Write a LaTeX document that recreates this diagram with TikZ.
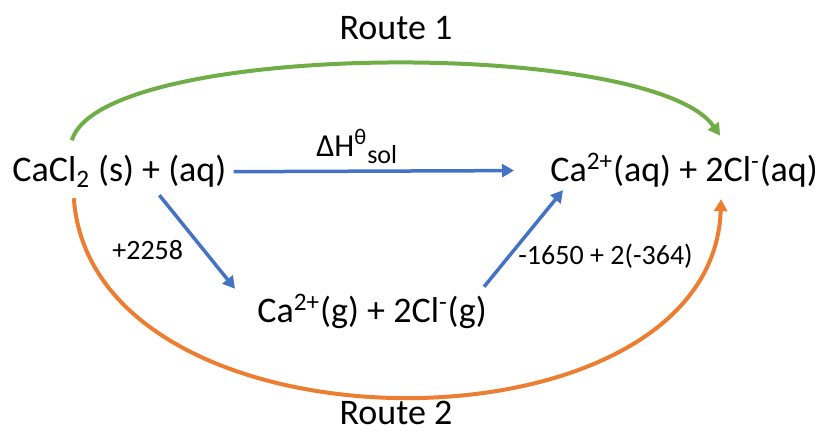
\documentclass[tikz,border=0pt]{standalone}
\usepackage{fontspec}
\setmainfont{Carlito}
\usepackage{tikz}
\usetikzlibrary{arrows.meta, positioning}
\definecolor{offblue}{HTML}{4472C4}
\definecolor{offgreen}{HTML}{70AD47}
\definecolor{offorange}{HTML}{ED7D31}
\tikzset{species/.style = {inner sep=0pt, anchor=base west, font=\fontsize{18}{22}\selectfont}}
\tikzset{enlabel/.style = {inner sep=0pt, anchor=base west, font=\fontsize{14}{17}\selectfont}}
\tikzset{routelabel/.style = {inner sep=0pt, anchor=base, font=\fontsize{18}{22}\selectfont}}
\tikzset{steparrow/.style = {draw=offblue, line width=1.75pt, -{Triangle[length=6pt,width=6.5pt]}}}
\tikzset{routearc/.style = {draw=#1, line width=2pt, -{Triangle[length=6pt,width=6.5pt]}}}

\begin{document}
\begin{tikzpicture}[x=0.5pt, y=0.5pt]
\useasboundingbox (0,0) rectangle (817,433);
\node[species] (lhs) at (12,251) {CaCl\textsubscript{2} (s) + (aq)};
\node[species] (rhs) at (550,251) {Ca\textsuperscript{2+}(aq) + 2Cl\textsuperscript{-}(aq)};
\node[species] (gas) at (257,110) {Ca\textsuperscript{2+}(g) + 2Cl\textsuperscript{-}(g)};
\node[routelabel] (route1) at (396,393) {Route 1};
\node[routelabel] (route2) at (396,9) {Route 2};
\node[enlabel, font=\fontsize{16}{19}\selectfont] (dhsol) at (316,276) {ΔH\textsuperscript{θ}\raisebox{-0.45ex}{\fontsize{13}{15}\selectfont sol}};
\node[enlabel] (atomise) at (112,173) {+2258};
\node[enlabel] (hydrate) at (518,168) {-1650 + 2(-364)};
% direct and indirect steps
\draw[steparrow, shorten <=3.5pt, shorten >=18pt] (lhs.east) -- (rhs.west);
\draw[steparrow] ([shift={(40,-7)}]lhs.south) -- ([shift={(-22,5)}]gas.north west);
\draw[steparrow] ([shift={(-3,7)}]gas.north east) -- ([shift={(13,-2)}]rhs.south west);
% the two routes
\draw[routearc=offgreen] ([shift={(-47.5,15)}]lhs.north) .. controls +(30,100) and +(-68,98) .. ([shift={(36,17)}]rhs.north);
\draw[routearc=offorange] ([shift={(-45.5,-10)}]lhs.south) .. controls +(18,-264) and +(-9,-264) .. ([shift={(37,-11)}]rhs.south);
\end{tikzpicture}
\end{document}
